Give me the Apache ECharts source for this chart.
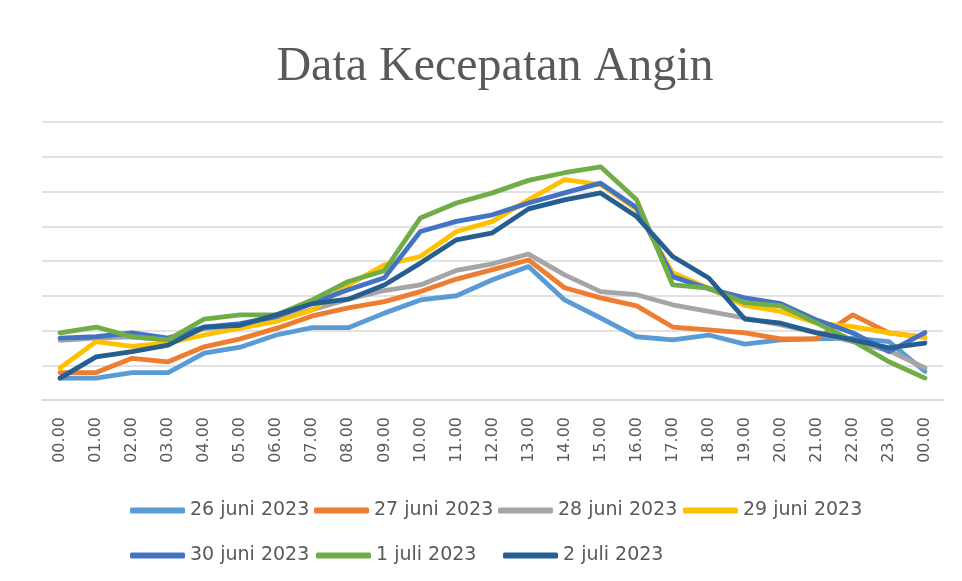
<!DOCTYPE html>
<html>
<head>
<meta charset="utf-8">
<title>Data Kecepatan Angin</title>
<script src="https://cdn.jsdelivr.net/npm/echarts@6/dist/echarts.min.js"></script>
<style>
  html, body { margin: 0; padding: 0; background: #fff; }
  #myChart { width: 962px; height: 581px; }
</style>
</head>
<body>
<div id="myChart"></div>
<script>
// jam pengamatan
const hours = ['00.00', '01.00', '02.00', '03.00', '04.00', '05.00', '06.00', '07.00', '08.00', '09.00',
  '10.00', '11.00', '12.00', '13.00', '14.00', '15.00', '16.00', '17.00', '18.00', '19.00',
  '20.00', '21.00', '22.00', '23.00', '00.00']

// kecepatan angin per hari (skala garis bantu)
const juni26 = [0.63, 0.63, 0.79, 0.79, 1.35, 1.52, 1.87, 2.08, 2.08, 2.5, 2.88, 3.0, 3.46, 3.84, 2.88, 2.36, 1.82, 1.73, 1.87, 1.61, 1.73, 1.76, 1.78, 1.68, 0.82]
const juni27 = [0.79, 0.79, 1.2, 1.1, 1.53, 1.76, 2.06, 2.42, 2.65, 2.83, 3.12, 3.48, 3.75, 4.03, 3.23, 2.94, 2.71, 2.1, 2.02, 1.93, 1.76, 1.76, 2.45, 1.93, 1.8]
const juni28 = [1.72, 1.78, 1.82, 1.72, 2.05, 2.15, 2.35, 2.6, 2.9, 3.15, 3.31, 3.73, 3.92, 4.2, 3.6, 3.12, 3.03, 2.74, 2.55, 2.36, 2.16, 1.93, 1.68, 1.42, 0.92]
const juni29 = [0.92, 1.68, 1.54, 1.64, 1.87, 2.07, 2.26, 2.59, 3.31, 3.89, 4.13, 4.85, 5.14, 5.76, 6.34, 6.2, 5.48, 3.66, 3.22, 2.72, 2.55, 2.21, 2.11, 1.93, 1.81]
const juni30 = [1.78, 1.82, 1.93, 1.78, 2.1, 2.2, 2.4, 2.8, 3.17, 3.52, 4.85, 5.14, 5.33, 5.67, 5.96, 6.24, 5.53, 3.55, 3.2, 2.94, 2.77, 2.3, 1.93, 1.39, 1.94]
const juli1 = [1.93, 2.1, 1.82, 1.73, 2.33, 2.45, 2.45, 2.88, 3.41, 3.72, 5.24, 5.67, 5.96, 6.32, 6.54, 6.71, 5.76, 3.31, 3.22, 2.8, 2.71, 2.21, 1.7, 1.1, 0.63]
const juli2 = [0.63, 1.24, 1.39, 1.58, 2.1, 2.15, 2.45, 2.77, 2.9, 3.31, 3.94, 4.61, 4.81, 5.5, 5.76, 5.96, 5.28, 4.13, 3.51, 2.33, 2.21, 1.93, 1.73, 1.5, 1.64]

const seriesNames = ['26 juni 2023', '27 juni 2023', '28 juni 2023', '29 juni 2023', '30 juni 2023', '1 juli 2023', '2 juli 2023']
const seriesData = [juni26, juni27, juni28, juni29, juni30, juli1, juli2]
const colors = ['#5B9BD5', '#ED7D31', '#A5A5A5', '#FFC000', '#4472C4', '#70AD47', '#255E91']

// posisi legenda (kolom/baris ala Excel)
const legendPos = [[130, 501], [314, 501], [498, 501], [683, 501], [130, 546], [316, 546], [503, 546]]

let myChart = echarts.init(document.getElementById('myChart'))

let option = {
  animation: false,
  color: colors,
  title: {
    text: 'Data Kecepatan Angin',
    left: 490,
    top: 38,
    textAlign: 'center',
    textStyle: {
      fontFamily: '"Liberation Serif", "Times New Roman", serif',
      fontSize: 48,
      fontWeight: 'normal',
      color: '#595959'
    }
  },
  legend: seriesNames.map((name, i) => ({
    data: [name],
    left: legendPos[i][0],
    top: legendPos[i][1],
    padding: 0,
    icon: 'roundRect',
    itemWidth: 55,
    itemHeight: 6,
    textStyle: {
      fontFamily: '"DejaVu Sans", sans-serif',
      fontSize: 19,
      color: '#595959',
      padding: [0, 0, 0, 0]
    }
  })),
  grid: {
    left: 42,
    right: 19,
    top: 122,
    bottom: 181
  },
  xAxis: {
    type: 'category',
    data: hours,
    boundaryGap: true,
    axisLine: { lineStyle: { color: '#D9D9D9', width: 1.5 } },
    axisTick: { show: false },
    axisLabel: {
      rotate: 90,
      margin: 17,
      interval: 0,
      fontFamily: '"DejaVu Sans", sans-serif',
      fontSize: 16,
      color: '#595959'
    }
  },
  yAxis: {
    type: 'value',
    min: 0,
    max: 8,
    interval: 1,
    axisLine: { show: false },
    axisTick: { show: false },
    axisLabel: { show: false },
    splitLine: { lineStyle: { color: '#D9D9D9', width: 1.5 } }
  },
  series: seriesNames.map((name, i) => ({
    name: name,
    type: 'line',
    data: seriesData[i],
    symbol: 'none',
    lineStyle: { width: 4.8, cap: 'round', join: 'round' }
  }))
}

myChart.setOption(option)
</script>
</body>
</html>
